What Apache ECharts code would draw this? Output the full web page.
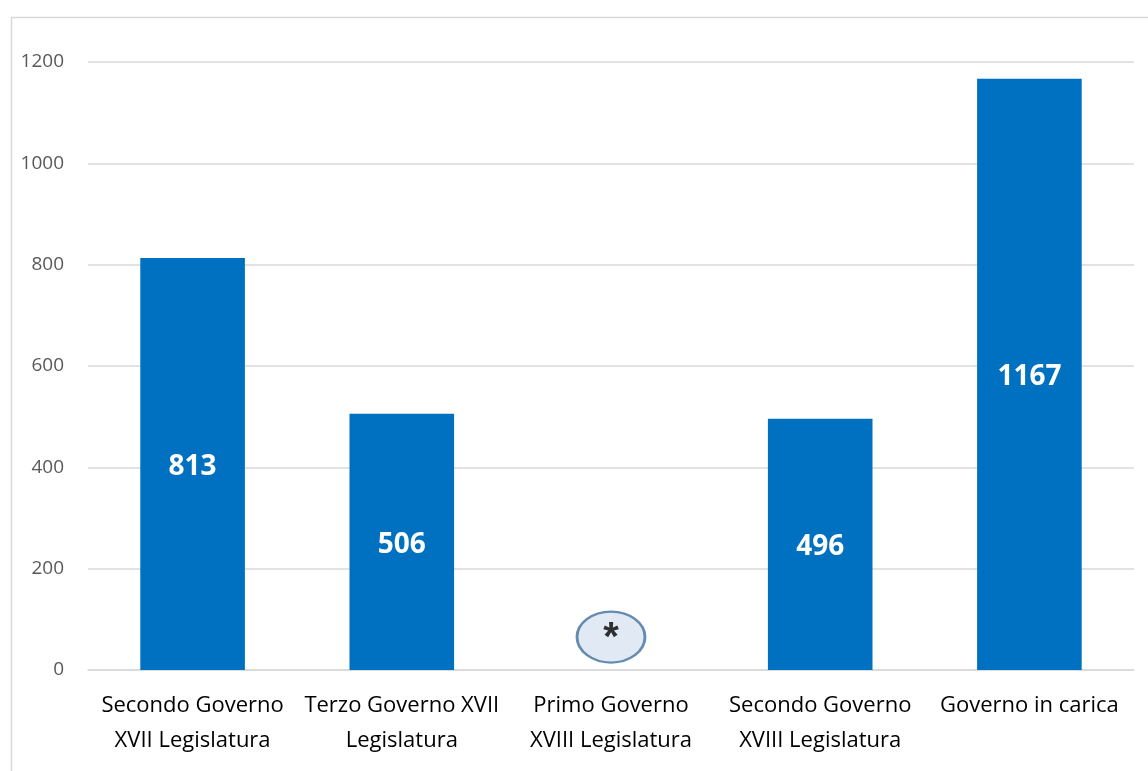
<!DOCTYPE html>
<html><head><meta charset="utf-8">
<script src="https://cdn.jsdelivr.net/npm/echarts@6/dist/echarts.min.js"></script>
<style>html,body{margin:0;padding:0;background:#fff}#c{width:1148px;height:771px}</style>
</head><body><div id="c"></div>
<script>
const categories = ['Secondo Governo\nXVII Legislatura','Terzo Governo XVII\nLegislatura','Primo Governo\nXVIII Legislatura','Secondo Governo\nXVIII Legislatura','Governo in carica'];
const values = [813, 506, null, 496, 1167];
const noteMarker = [[2, 65]];
const noteText = '*';
const yTicks = {min: 0, max: 1200, interval: 200};

const chart = echarts.init(document.getElementById('c'));
chart.setOption({
  animation: false,
  backgroundColor: '#fff',
  graphic: [{
    type: 'rect', left: 9, top: 15, shape: {width: 1200, height: 800},
    style: {fill: 'none', stroke: '#d9d9d9', lineWidth: 1.5}, z: -1
  }],
  grid: {left: 88, right: 14, top: 62, bottom: 101, containLabel: false},
  xAxis: {
    type: 'category', data: categories,
    axisLine: {show: true, lineStyle: {color: '#d9d9d9', width: 1.5}},
    axisTick: {show: false},
    axisLabel: {color: '#000', fontSize: 22, fontFamily: 'Open Sans', lineHeight: 35, margin: 18, interval: 0}
  },
  yAxis: {
    type: 'value', min: yTicks.min, max: yTicks.max, interval: yTicks.interval,
    axisLine: {show: false}, axisTick: {show: false},
    splitLine: {lineStyle: {color: '#d9d9d9', width: 1.5}},
    axisLabel: {color: '#595959', fontSize: 19, fontFamily: 'Open Sans', margin: 24, formatter: v => String(v)}
  },
  series: [{
    type: 'bar', data: values, barWidth: '50%',
    itemStyle: {color: '#0070C0'},
    label: {show: true, position: 'inside', offset: [0, 3], color: '#fff', fontWeight: 'bold', fontSize: 28, fontFamily: 'Open Sans'}
  }, {
    type: 'scatter', data: noteMarker, symbol: 'circle', symbolSize: [68, 51],
    itemStyle: {color: '#DAE3F3', borderColor: '#41719C', borderWidth: 2.5},
    label: {show: true, formatter: noteText, position: 'inside', offset: [0, 2], color: '#000', fontWeight: 'bold', fontSize: 40, fontFamily: 'Liberation Sans'},
    z: 3
  }]
});
</script></body></html>
